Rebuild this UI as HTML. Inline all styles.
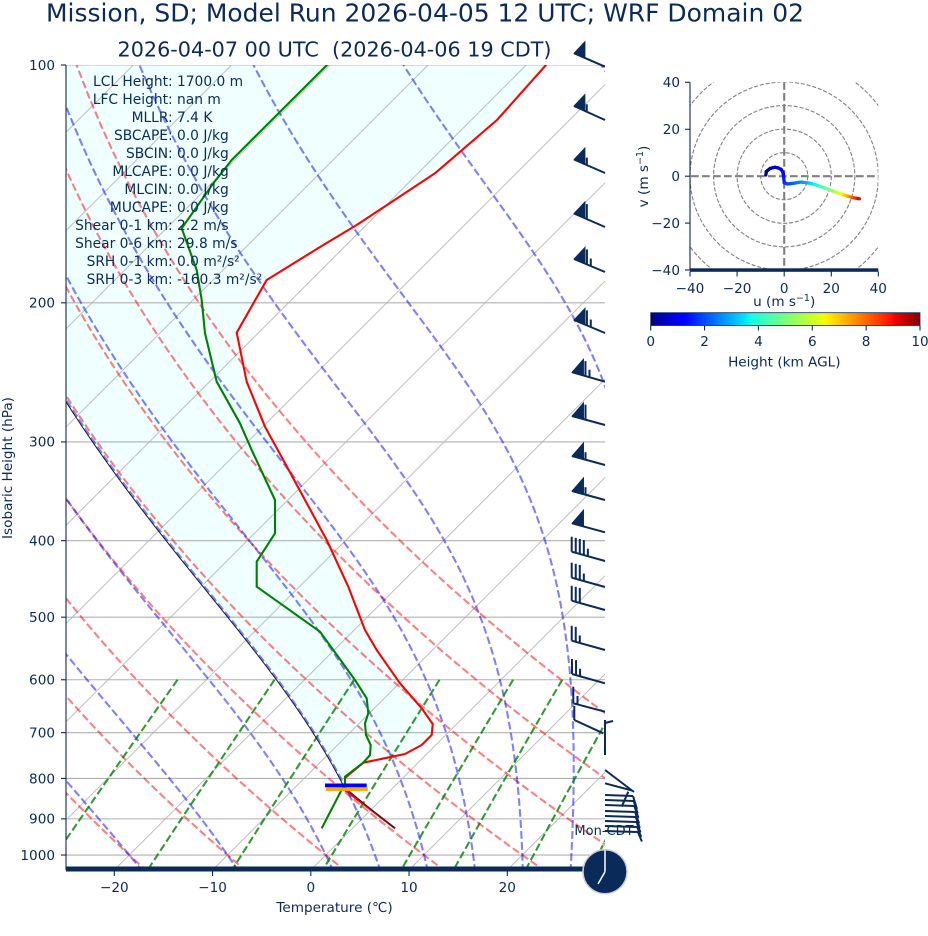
<!DOCTYPE html>
<html><head><meta charset="utf-8">
<style>
html,body{margin:0;padding:0;background:#fff;}
svg{display:block;font-family:"DejaVu Sans","Liberation Sans",sans-serif;}
text{fill:#0a2a5a;}
</style></head><body>
<svg id="s" width="928" height="936" viewBox="0 0 928 936" xmlns="http://www.w3.org/2000/svg">
<defs>
<clipPath id="cm"><rect x="66" y="65" width="539" height="805"/></clipPath>
<clipPath id="ch"><rect x="690" y="82.3" width="188.3" height="187.7"/></clipPath>
<linearGradient id="jet" x1="0" y1="0" x2="1" y2="0"></linearGradient>
</defs>
<rect x="0" y="0" width="928" height="936" fill="#fff"/>

<!-- Titles -->
<text x="425" y="21.7" font-size="24.5" text-anchor="middle" textLength="758" lengthAdjust="spacingAndGlyphs">Mission, SD; Model Run 2026-04-05 12 UTC; WRF Domain 02</text>
<text x="334.5" y="56.5" font-size="20.5" text-anchor="middle" style="white-space:pre" textLength="434" lengthAdjust="spacingAndGlyphs">2026-04-07 00 UTC  (2026-04-06 19 CDT)</text>

<!-- main plot layers -->
<g clip-path="url(#cm)">
  <g id="gfill"></g>
  <g id="ggrid"></g>
  <g id="gadiab"></g>
  <g id="gdata"></g>
</g>

<!-- left spine & bottom bar -->
<line x1="66" y1="65" x2="66" y2="870" stroke="#0a2a5a" stroke-width="1.1"/>
<rect x="66" y="866.5" width="539" height="5" fill="#0a2a5a"/>
<g id="gticks" stroke="#0a2a5a" stroke-width="1.1"></g>
<g id="glabels" font-size="13.6"></g>

<text x="334.5" y="912" font-size="13.6" text-anchor="middle">Temperature (℃)</text>
<text transform="translate(12,468) rotate(-90)" font-size="13.6" text-anchor="middle">Isobaric Height (hPa)</text>

<!-- stats -->
<g font-size="13.8">
<g text-anchor="end">
<text x="172.7" y="86">LCL Height:</text>
<text x="172.7" y="104">LFC Height:</text>
<text x="172.7" y="122">MLLR:</text>
<text x="172.7" y="140">SBCAPE:</text>
<text x="172.7" y="158">SBCIN:</text>
<text x="172.7" y="176">MLCAPE:</text>
<text x="172.7" y="194">MLCIN:</text>
<text x="172.7" y="212">MUCAPE:</text>
<text x="172.7" y="230">Shear 0-1 km:</text>
<text x="172.7" y="248">Shear 0-6 km:</text>
<text x="172.7" y="266">SRH 0-1 km:</text>
<text x="172.7" y="284">SRH 0-3 km:</text>
</g>
<g>
<text x="177" y="86">1700.0 m</text>
<text x="177" y="104">nan m</text>
<text x="177" y="122">7.4 K</text>
<text x="177" y="140">0.0 J/kg</text>
<text x="177" y="158">0.0 J/kg</text>
<text x="177" y="176">0.0 J/kg</text>
<text x="177" y="194">0.0 J/kg</text>
<text x="177" y="212">0.0 J/kg</text>
<text x="177" y="230">2.2 m/s</text>
<text x="177" y="248">29.8 m/s</text>
<text x="177" y="266">0.0 m²/s²</text>
<text x="177" y="284">-160.3 m²/s²</text>
</g>
</g>

<!-- barbs -->
<g id="gbarbs" stroke="#0a2a5a" stroke-width="2" fill="#0a2a5a"></g>

<!-- clock -->
<text x="604" y="835" font-size="13" text-anchor="middle">Mon-CDT</text>
<circle cx="605" cy="871.7" r="22" fill="#0a2a5a" stroke="#cfcfcf" stroke-width="1.5"/>
<line x1="605" y1="871.7" x2="605" y2="850.5" stroke="#fff" stroke-width="1.5"/>
<line x1="605" y1="871.7" x2="598" y2="884" stroke="#fff" stroke-width="1.5"/>

<!-- hodograph -->
<g clip-path="url(#ch)" id="ghodo"></g>
<line x1="690" y1="82.3" x2="690" y2="270" stroke="#0a2a5a" stroke-width="1.1"/>
<rect x="690" y="268.3" width="188.3" height="3.5" fill="#0a2a5a"/>
<g id="ghticks" stroke="#0a2a5a" stroke-width="1.1"></g>
<g font-size="13.6">
<g text-anchor="end">
<text x="680" y="87.1">40</text>
<text x="680" y="134.1">20</text>
<text x="680" y="181">0</text>
<text x="680" y="228.1">−20</text>
<text x="680" y="274.8">−40</text>
</g>
<g text-anchor="middle">
<text x="690" y="293">−40</text>
<text x="737.1" y="293">−20</text>
<text x="784.2" y="293">0</text>
<text x="831.3" y="293">20</text>
<text x="878.3" y="293">40</text>
</g>
<text x="784.2" y="306" text-anchor="middle">u (m s<tspan font-size="9.5" dy="-5">−1</tspan><tspan dy="5">)</tspan></text>
<text transform="translate(648,176.5) rotate(-90)" text-anchor="middle">v (m s<tspan font-size="9.5" dy="-5">−1</tspan><tspan dy="5">)</tspan></text>
</g>

<!-- colorbar -->
<rect x="650.7" y="312.7" width="269.3" height="12.8" fill="url(#jet)" stroke="#0a2a5a" stroke-width="0.8"/>
<g id="gcbt" stroke="#0a2a5a" stroke-width="1.1"></g>
<g font-size="13.6" text-anchor="middle">
<text x="650.7" y="346">0</text>
<text x="704.6" y="346">2</text>
<text x="758.4" y="346">4</text>
<text x="812.3" y="346">6</text>
<text x="866.1" y="346">8</text>
<text x="920" y="346">10</text>
<text x="784.3" y="366.5">Height (km AGL)</text>
</g>
</svg>
<script>
(function(){
const NS="http://www.w3.org/2000/svg";
const Y0=65,B=343.1,X0=310.8,S=9.825,YB=870;
const yOf=p=>Y0+B*Math.log(p/100);
const pOf=y=>100*Math.exp((y-Y0)/B);
const xOf=(T,y)=>X0+S*T+(YB-y);
const K=273.15,RC=287.04749/1004.6662;
function add(par,tag,at){const e=document.createElementNS(NS,tag);for(const k in at)e.setAttribute(k,at[k]);par.appendChild(e);return e;}
function d(pts){return 'M'+pts.map(q=>q[0].toFixed(2)+','+q[1].toFixed(2)).join('L');}
function es(Tk){const c=Tk-K;return 6.112*Math.exp(17.67*c/(c+243.5));}
function dTdp(p,T){const e=es(T);const rs=0.6219569*e/(p-e);const Lv=2.50084e6,Rd=287.04749;
  return (Rd*T+Lv*rs)/(1004.6662+Lv*Lv*rs*0.6219569/(Rd*T*T))/p;}
function integ(T,p,pEnd,h){const out=[[p,T]];
  while((h<0&&p>pEnd+1e-9)||(h>0&&p<pEnd-1e-9)){
    const hh=h<0?Math.max(h,pEnd-p):Math.min(h,pEnd-p);
    const k1=dTdp(p,T),k2=dTdp(p+hh/2,T+hh/2*k1),k3=dTdp(p+hh/2,T+hh/2*k2),k4=dTdp(p+hh,T+hh*k3);
    T+=hh/6*(k1+2*k2+2*k3+k4);p+=hh;out.push([p,T]);}
  return out;}
function toXY(arr){return arr.map(a=>{const y=yOf(a[0]);return [xOf(a[1]-K,y),y];});}

const gfill=document.getElementById('gfill'),ggrid=document.getElementById('ggrid'),
gad=document.getElementById('gadiab'),gdata=document.getElementById('gdata');

// isotherms
for(let T=-200;T<=40;T+=10){
  add(ggrid,'line',{x1:xOf(T,870),y1:870,x2:xOf(T,65),y2:65,stroke:'#bdbdbd','stroke-width':1});
}
// horizontal grid
for(let p=100;p<=1000;p+=100){const y=yOf(p);
  add(ggrid,'line',{x1:66,y1:y,x2:605,y2:y,stroke:'#b0b0b0','stroke-width':1.1});}

// dry adiabats
for(let t0=-40;t0<=50;t0+=10){const pts=[];
  for(let p=1050;p>=100;p-=10){const T=(t0+K)*Math.pow(p/1000,RC);pts.push([p,T]);}
  add(gad,'path',{d:d(toXY(pts)),fill:'none',stroke:'#ff0000','stroke-opacity':0.5,'stroke-width':2.08,'stroke-dasharray':'7.7 3.3'});}
// moist adiabats
const mt=[-40,-30,-20,-10];for(let t=0;t<=50;t+=5)mt.push(t);
mt.forEach(t0=>{const up=integ(t0+K,1000,100,-2);const dn=integ(t0+K,1000,1050,2);
  const arr=dn.reverse().concat(up.slice(1));
  add(gad,'path',{d:d(toXY(arr)),fill:'none',stroke:'#0000ff','stroke-opacity':0.5,'stroke-width':2.08,'stroke-dasharray':'7.7 3.3'});});
// mixing ratio
[0.0004,0.001,0.002,0.004,0.007,0.01,0.016,0.024,0.032].forEach(w=>{const pts=[];
  for(let p=600;p<=1050;p+=10){const e=p*w/(0.6219569+w);const l=Math.log(e/6.112);const Td=243.5*l/(17.67-l);
    const y=yOf(p);pts.push([xOf(Td,y),y]);}
  add(gad,'path',{d:d(pts),fill:'none',stroke:'#008000','stroke-opacity':0.8,'stroke-width':2.08,'stroke-dasharray':'7.7 3.3'});});

// parcel
const ys=828.3,ps=pOf(ys),Ts=(395-X0-(YB-ys))/S+K;const pl=pOf(787);
const dry=[];for(let p=ps;p>pl;p-=2){dry.push([p,Ts*Math.pow(p/ps,RC)]);}
const Tl=Ts*Math.pow(pl/ps,RC);dry.push([pl,Tl]);
const moist=integ(Tl,pl,100,-2);
const parcel=toXY(dry.concat(moist.slice(1)));

// temperature and dewpoint (pixel)
const temp=[[395,828.3],[345,790],[345,778],[363.3,762.7],[405,754],[421.7,745],[431.7,735],[432.7,724],[421.7,708.3],[400,683.3],[376.7,650],[365,630],[348.3,586.7],[326.7,540],[283.3,460],[265,426.7],[246.7,381.7],[236.7,332.7],[266.7,280],[323.3,245],[356.7,225],[435,173.3],[497,120],[546,65],[551,59]];
const dew=[[321.7,828.3],[345,783.3],[345,776.7],[363.3,762.7],[370,755],[370.7,745],[366,735],[365,723.3],[368.3,713.3],[366.7,698.3],[355,680],[320,631.7],[256.7,586.7],[256.7,561.7],[275,533.3],[275,500],[251.7,450],[240,423.3],[216.7,381.7],[205,333.3],[201.7,300],[196.7,270],[181.7,228.3],[213.3,183.3],[231.7,160],[327,65],[332,59]];

// fill polygon
const tUp=temp.slice(2);
const pTop=parcel.filter(q=>q[1]<=778).reverse();
const poly=tUp.concat([[551,40],[-600,40]]).concat(pTop);
add(gfill,'path',{d:d(poly)+'Z',fill:'#f0ffff',stroke:'none'});

add(gdata,'path',{d:d(temp),fill:'none',stroke:'#ff0000','stroke-width':2.1,'stroke-linejoin':'round'});
add(gdata,'path',{d:d(dew),fill:'none',stroke:'#008000','stroke-width':2.1,'stroke-linejoin':'round'});
add(gdata,'path',{d:d(parcel),fill:'none',stroke:'#1a1a2a','stroke-width':1});
add(gdata,'rect',{x:325,y:783.5,width:41.7,height:3.8,fill:'#0000ff'});
add(gdata,'rect',{x:326,y:787.5,width:41.7,height:3.4,fill:'#ffa500'});

// ticks & labels main
const gt=document.getElementById('gticks'),gl=document.getElementById('glabels');
for(let p=100;p<=1000;p+=100){const y=yOf(p);add(gt,'line',{x1:61,y1:y,x2:66,y2:y});
  const t=add(gl,'text',{x:55,y:y+4.8,'text-anchor':'end'});t.textContent=String(p);}
[-20,-10,0,10,20].forEach(T=>{const x=X0+S*T;add(gt,'line',{x1:x,y1:871,x2:x,y2:876});
  const t=add(gl,'text',{x:x,y:892,'text-anchor':'middle'});t.textContent=(T<0?'\u2212'+(-T):String(T));});

// barbs
const gb=document.getElementById('gbarbs');
function ln(x1,y1,x2,y2){add(gb,'line',{x1:x1,y1:y1,x2:x2,y2:y2});}
function barb(yb,ex,ey,F,Fu,H){
  const x0=605,y0=yb,x1=605+ex,y1=yb+ey;ln(x0,y0,x1,y1);
  const L=Math.hypot(ex,ey),ux=-ex/L,uy=-ey/L;let dd=0;
  for(let i=0;i<F;i++){const ax=x1+ux*dd,ay=y1+uy*dd,bx=x1+ux*(dd+12),by=y1+uy*(dd+12);
    add(gb,'polygon',{points:ax+','+ay+' '+bx+','+by+' '+bx+','+(by-16.5),'stroke-width':0.8});dd+=14;}
  for(let i=0;i<Fu;i++){const ax=x1+ux*dd,ay=y1+uy*dd;ln(ax,ay,ax,ay-15);dd+=4.2;}
  for(let i=0;i<H;i++){if(F+Fu===0&&i===0)dd=4.2;const ax=x1+ux*dd,ay=y1+uy*dd;ln(ax,ay,ax,ay-7.5);dd+=4.2;}
}
[[66.7,-31,-13.5,1,0,0],[120,-31,-14,1,0,1],[173,-31,-13.5,1,0,1],[227,-31,-13.5,1,1,0],
 [272,-31,-13,1,1,1],[333,-31,-13,1,1,1],[381.7,-33,-9.5,1,1,1],[425,-33,-9,1,1,0],
 [465,-33,-9,1,0,1],[500,-33,-9,1,0,1],[532.3,-33,-9,1,0,0],[561,-33.3,-9.3,0,4,1],
 [587,-33.3,-9.3,0,3,1],[610,-33.3,-9.3,0,3,0],[650,-33.3,-9.3,0,2,1],[683.3,-33,-9.3,0,2,1]
].forEach(b=>barb.apply(null,b));
// special lower barbs
ln(605,711.7,573.3,703.3);ln(573.3,703.3,573.3,686.7);ln(577.5,704.4,577.5,696);
ln(603.3,733.3,574.3,720);ln(574.3,720,574.3,706);
ln(605,755,605,720);ln(605,723,613,721);
ln(605,770,634,792);ln(605,783.3,632,790.5);ln(628.3,791.7,621.7,806.7);
[795,800,805,811,816,821,826,831].forEach((yb,i)=>{const ex=633+i*0.7;ln(605,yb,ex,yb+1);ln(ex,yb+1,ex+4,yb+14-i*0.5);});

// hodograph
const gh=document.getElementById('ghodo');const HX=784.2,HY=176.2,HS=2.354;
[10,20,30,40,50].forEach(r=>add(gh,'circle',{cx:HX,cy:HY,r:r*HS,fill:'none',stroke:'#808080','stroke-width':1.1,'stroke-dasharray':'4.1 1.8'}));
add(gh,'line',{x1:HX,y1:60,x2:HX,y2:290,stroke:'#808080','stroke-width':2.1,'stroke-dasharray':'7.7 3.3'});
add(gh,'line',{x1:680,y1:HY,x2:890,y2:HY,stroke:'#808080','stroke-width':2.1,'stroke-dasharray':'7.7 3.3'});
function jet(x){function seg(pts){for(let i=1;i<pts.length;i++){if(x<=pts[i][0]){const a=pts[i-1],b=pts[i];return a[1]+(b[1]-a[1])*(x-a[0])/(b[0]-a[0]);}}return pts[pts.length-1][1];}
  const r=seg([[0,0],[0.35,0],[0.66,1],[0.89,1],[1,0.5]]),g=seg([[0,0],[0.125,0],[0.375,1],[0.64,1],[0.91,0],[1,0]]),b=seg([[0,0.5],[0.11,1],[0.34,1],[0.65,0],[1,0]]);
  return 'rgb('+Math.round(r*255)+','+Math.round(g*255)+','+Math.round(b*255)+')';}
const hp=[[-7.8,0.5,0],[-7.6,2,0.2],[-6,3.3,0.4],[-4,3.8,0.6],[-2.5,3.5,0.8],[-1.2,2.8,1.0],[-0.5,1.5,1.2],[-0.2,-0.5,1.4],[0,-2.8,1.6],[1.5,-3.3,1.9],[4,-3,2.2],[7,-2.5,2.6],[10,-2.8,3.0],[13,-3.5,3.6],[16,-4.6,4.2],[19.4,-5.8,5.0],[23,-7.2,6.0],[26.5,-8.3,7.0],[29,-9.1,8.0],[32,-9.6,9.2]];
for(let i=1;i<hp.length;i++){const a=hp[i-1],b=hp[i];const n=4;
  for(let j=0;j<n;j++){const t0=j/n,t1=(j+1)/n;
    const u0=a[0]+(b[0]-a[0])*t0,v0=a[1]+(b[1]-a[1])*t0,u1=a[0]+(b[0]-a[0])*t1,v1=a[1]+(b[1]-a[1])*t1,h=a[2]+(b[2]-a[2])*(t0+t1)/2;
    add(gh,'line',{x1:HX+u0*HS,y1:HY-v0*HS,x2:HX+u1*HS,y2:HY-v1*HS,stroke:jet(h/10),'stroke-width':3.2,'stroke-linecap':'round'});}}
const ght=document.getElementById('ghticks');
[82.3,129.3,176.2,223.1,270].forEach(y=>add(ght,'line',{x1:685,y1:y,x2:690,y2:y}));
[690,737.1,784.2,831.3,878.3].forEach(x=>add(ght,'line',{x1:x,y1:271.5,x2:x,y2:276.5}));
// colorbar
const gr=document.getElementById('jet');
for(let i=0;i<=100;i++){add(gr,'stop',{offset:(i/100),'stop-color':jet(i/100)});}
const gc=document.getElementById('gcbt');
[0,2,4,6,8,10].forEach(v=>{const x=650.7+26.93*v;add(gc,'line',{x1:x,y1:325.5,x2:x,y2:330.5});});
})();
</script>
</body></html>
